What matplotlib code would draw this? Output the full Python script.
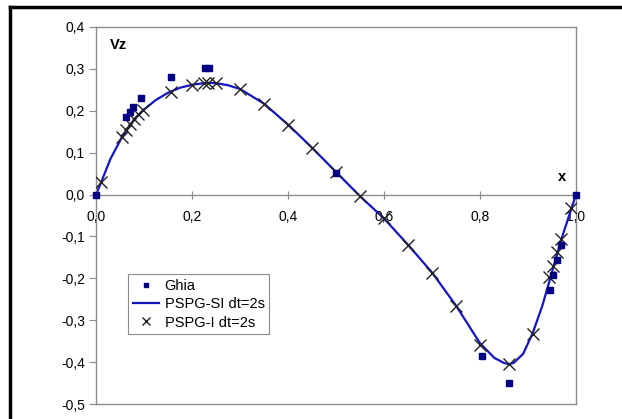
"""Vertical velocity Vz along the horizontal centreline: Ghia vs PSPG runs."""
import matplotlib

matplotlib.use("Agg")
import matplotlib.pyplot as plt
from matplotlib.lines import Line2D
from matplotlib.ticker import FuncFormatter

plt.rcParams["font.family"] = ["Liberation Sans", "DejaVu Sans"]

# Ghia et al. reference points
ghia_x = [0.0, 0.0625, 0.0703, 0.0781, 0.0938, 0.1563, 0.2266, 0.2344, 0.5,
          0.9453, 0.9531, 0.9609, 0.9688, 1.0, 0.8047, 0.8594]
ghia_y = [0.0, 0.184, 0.197, 0.209, 0.230, 0.281, 0.302, 0.302, 0.052,
          -0.228, -0.193, -0.157, -0.121, 0.0, -0.386, -0.450]

# PSPG-SI dt=2s (solid curve)
si_x = [0.0, 0.011, 0.03, 0.054, 0.08, 0.1, 0.125, 0.15, 0.175, 0.2, 0.23,
        0.25, 0.275, 0.3, 0.35, 0.4, 0.45, 0.5, 0.55, 0.6, 0.65, 0.7, 0.75,
        0.8, 0.83, 0.85, 0.86, 0.87, 0.89, 0.91, 0.93, 0.95, 0.97, 0.99, 1.0]
si_y = [0.0, 0.030, 0.085, 0.137, 0.180, 0.203, 0.226, 0.243, 0.255, 0.262,
        0.267, 0.266, 0.261, 0.252, 0.217, 0.167, 0.112, 0.054, -0.004,
        -0.057, -0.120, -0.186, -0.265, -0.355, -0.390, -0.402, -0.405,
        -0.402, -0.380, -0.330, -0.265, -0.185, -0.105, -0.035, 0.0]

# PSPG-I dt=2s (crosses)
i_x = [0.011, 0.054, 0.063, 0.071, 0.079, 0.088, 0.098, 0.156, 0.20, 0.224,
       0.234, 0.25, 0.30, 0.35, 0.40, 0.45, 0.50, 0.55, 0.60, 0.65, 0.70,
       0.75, 0.80, 0.86, 0.91, 0.944, 0.952, 0.96, 0.968, 0.99]
i_y = [0.029, 0.138, 0.155, 0.169, 0.181, 0.193, 0.203, 0.245, 0.262, 0.267,
       0.267, 0.266, 0.252, 0.216, 0.166, 0.111, 0.053, -0.004, -0.056,
       -0.121, -0.187, -0.267, -0.360, -0.404, -0.334, -0.198, -0.170,
       -0.137, -0.107, -0.032]

x_ticks = [0.0, 0.2, 0.4, 0.6, 0.8, 1.0]
y_ticks = [-0.5, -0.4, -0.3, -0.2, -0.1, 0.0, 0.1, 0.2, 0.3, 0.4]

GRAY = "#8c8c8c"


def comma(v, _pos):
    return f"{v:.1f}".replace(".", ",")


fig = plt.figure(figsize=(6.22, 4.19), dpi=100)
ax = fig.add_axes([96 / 622, 1 - 404 / 419, 480 / 622, 377 / 419])

ax.plot(si_x, si_y, color="#1414c0", linewidth=1.6, label="PSPG-SI dt=2s", zorder=2)
ax.plot(i_x, i_y, linestyle="none", marker="x", markersize=8, markeredgewidth=1.0,
        color="#222222", label="PSPG-I dt=2s", zorder=3)
ax.plot(ghia_x, ghia_y, linestyle="none", marker="s", markersize=4.5,
        color="#000080", label="Ghia", zorder=4, clip_on=False)

ax.set_xlim(0, 1)
ax.set_ylim(-0.5, 0.4)
ax.set_xticks(x_ticks)
ax.set_yticks(y_ticks)
ax.xaxis.set_major_formatter(FuncFormatter(comma))
ax.yaxis.set_major_formatter(FuncFormatter(comma))

for side in ["left", "right", "top", "bottom"]:
    ax.spines[side].set_color(GRAY)
    ax.spines[side].set_linewidth(1.0)
ax.spines["bottom"].set_position(("data", 0))
ax.axhline(-0.5, color=GRAY, linewidth=1.0, clip_on=False)

ax.tick_params(axis="x", direction="inout", length=6, width=0.8, color=GRAY,
               pad=8, labelsize=10)
ax.tick_params(axis="y", direction="out", length=5, width=0.8, color=GRAY,
               pad=3, labelsize=10)

ax.text(0.03, 0.358, "Vz", fontsize=10.5, fontweight="bold", va="center")
ax.text(0.971, 0.043, "x", fontsize=10.5, fontweight="bold", ha="center", va="center")

handles, labels = ax.get_legend_handles_labels()
order = [2, 0, 1]
leg = ax.legend([handles[k] for k in order], [labels[k] for k in order],
                loc="lower left", bbox_to_anchor=(0.067, 0.186), fontsize=10.5,
                fancybox=False, framealpha=1, edgecolor=GRAY, borderpad=0.3,
                handlelength=1.8, handletextpad=0.4, labelspacing=0.3,
                borderaxespad=0, markerscale=0.75)
leg.get_frame().set_linewidth(0.8)

# outer black frame (left and top edges only)
fig.add_artist(Line2D([10 / 622, 10 / 622], [0, 1 - 7 / 419], color="black",
                      linewidth=2.5, transform=fig.transFigure))
fig.add_artist(Line2D([10 / 622, 1], [1 - 7 / 419, 1 - 7 / 419], color="black",
                      linewidth=2.5, transform=fig.transFigure))

fig.savefig("out.png", dpi=100)
